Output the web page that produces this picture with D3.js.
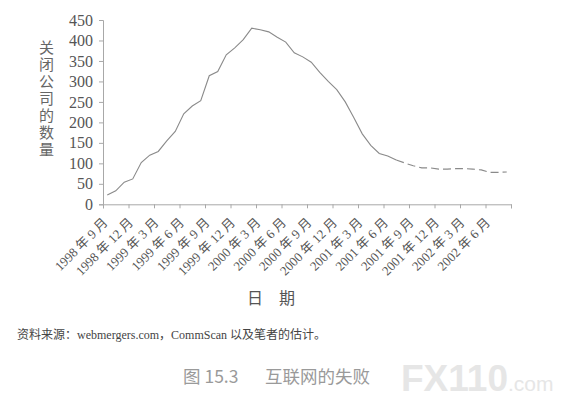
<!DOCTYPE html>
<html>
<head>
<meta charset="utf-8">
<script src="https://cdn.jsdelivr.net/npm/d3@7"></script>
<style>
  html, body { margin: 0; padding: 0; background: #fff; }
  svg { display: block; }
</style>
</head>
<body>
<svg id="chart" width="575" height="410"></svg>
<script>
// ---- data ----
const quarterLabels = ["1998 年 9 月", "1998 年 12 月", "1999 年 3 月", "1999 年 6 月",
  "1999 年 9 月", "1999 年 12 月", "2000 年 3 月", "2000 年 6 月",
  "2000 年 9 月", "2000 年 12 月", "2001 年 3 月", "2001 年 6 月",
  "2001 年 9 月", "2001 年 12 月", "2002 年 3 月", "2002 年 6 月"];
// monthly closures from Sep 1998 (index 0); actual counts
const actualClosures = [23, 33, 54, 62, 102, 120, 129, 155, 178, 221, 240, 253,
  314, 324, 365, 382, 402, 430, 426, 421, 408, 396, 370, 360,
  347, 322, 300, 280, 250, 212, 172, 144, 124, 118, 108];
// estimated counts, starting at month index 34
const estimateStart = 34;
const estimatedClosures = [108, 101, 94, 89, 89, 86, 86, 87, 87, 86, 84, 78, 78, 79];
const yTicks = [0, 50, 100, 150, 200, 250, 300, 350, 400, 450];
const totalMonths = 48;

// ---- drawing ----
const svg = d3.select("#chart");
const axisColor = "#a8a8a8";
const textColor = "#555";

const x = d3.scaleLinear().domain([0, totalMonths]).range([103, 511]);
const y = d3.scaleLinear().domain([0, 450]).range([204.3, 20]);

// y axis
const yAxis = d3.axisLeft(y).tickValues(yTicks).tickSize(4).tickPadding(6);
const gy = svg.append("g").attr("transform", `translate(${x(0)},0)`).call(yAxis);
gy.select(".domain").attr("stroke", axisColor);
gy.selectAll(".tick line").attr("stroke", axisColor);
gy.selectAll(".tick text")
  .attr("fill", textColor)
  .style("font-family", "'Liberation Serif', 'Times New Roman', serif")
  .style("font-size", "16px");

// x axis
const tickVals = d3.range(0, totalMonths + 1, 3);
const xAxis = d3.axisBottom(x).tickValues(tickVals).tickSize(4)
  .tickFormat(d => quarterLabels[d / 3] || "");
const gx = svg.append("g").attr("transform", `translate(0,${y(0)})`).call(xAxis);
gx.select(".domain").attr("stroke", axisColor);
gx.selectAll(".tick line").attr("stroke", axisColor);
gx.selectAll(".tick text")
  .attr("fill", textColor)
  .style("font-family", "'Liberation Serif', 'Times New Roman', 'Noto Sans CJK SC', serif")
  .style("font-size", "13px")
  .attr("text-anchor", "end")
  .attr("dy", null)
  .attr("y", null)
  .attr("transform", "translate(5,19) rotate(-45)");

// lines
const line = d3.line().x(d => x(d.i + 0.5)).y(d => y(d.v));
const actualPts = actualClosures.map((v, i) => ({ i, v }));
const estPts = estimatedClosures.map((v, k) => ({ i: estimateStart + k, v }));

svg.append("path").datum(actualPts)
  .attr("d", line).attr("fill", "none")
  .attr("stroke", "#8a8a8a").attr("stroke-width", 1.1);
svg.append("path").datum(estPts)
  .attr("d", line).attr("fill", "none")
  .attr("stroke", "#8a8a8a").attr("stroke-width", 1.1)
  .attr("stroke-dasharray", "8,4");

// y axis title (vertical, upright characters)
svg.append("text")
  .attr("x", 46.5)
  .attr("y", 40)
  .attr("fill", "#666")
  .style("font-family", "'Noto Sans CJK SC', sans-serif")
  .style("font-size", "15px")
  .style("writing-mode", "vertical-rl")
  .style("text-orientation", "upright")
  .style("letter-spacing", "2px")
  .text("关闭公司的数量");

// x axis title
svg.append("text")
  .attr("x", 271).attr("y", 304)
  .attr("text-anchor", "middle")
  .attr("fill", "#555")
  .style("font-family", "'Noto Sans CJK SC', sans-serif")
  .style("font-size", "16px")
  .attr("xml:space", "preserve")
  .text("日\u2003期");

// source note
svg.append("text")
  .attr("x", 17).attr("y", 339)
  .attr("fill", "#444")
  .style("font-family", "'Liberation Serif', 'Noto Sans CJK SC', serif")
  .style("font-size", "12px")
  .text("资料来源：webmergers.com，CommScan 以及笔者的估计。");

// caption
const capStyle = sel => sel.attr("fill", "#9a9a9a")
  .style("font-family", "'Noto Sans CJK SC', sans-serif")
  .style("font-size", "17.5px");
svg.append("text").attr("x", 183).attr("y", 383).call(capStyle).text("图 15.3");
svg.append("text").attr("x", 265).attr("y", 383).call(capStyle).text("互联网的失败");

// watermark
const wm = svg.append("text")
  .attr("x", 401).attr("y", 391)
  .attr("fill", "#e6e6e6")
  .style("font-family", "'Liberation Sans', Arial, sans-serif");
wm.append("tspan").style("font-size", "37px").style("font-weight", "bold").text("FX110");
wm.append("tspan").style("font-size", "21px").text(".com");
</script>
</body>
</html>
